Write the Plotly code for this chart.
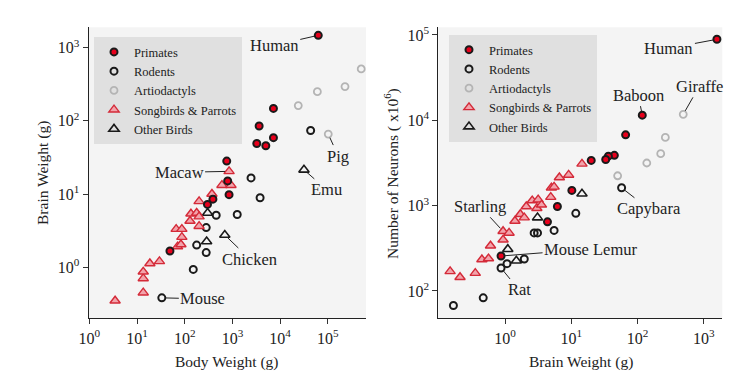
import numpy as np
import plotly.graph_objects as go

# ---------------- data ----------------
# Left panel: body weight (g) vs brain weight (g)
prim_body = [63000, 7240, 3630, 7240, 3240, 5010, 760, 795, 850, 390, 300, 49]
prim_brain = [1480, 148, 85, 59, 49, 45.7, 28.2, 15.1, 9.8, 8.5, 7.2, 1.66]
rod_body = [43600, 2455, 3800, 457, 1260, 282, 178, 282, 151, 33.1]
rod_brain = [74, 16.6, 8.9, 5.13, 5.25, 3.47, 2.0, 1.58, 0.93, 0.38]
art_body = [501000, 229000, 60300, 24000, 102000]
art_brain = [513, 295, 251, 162, 66]
song_body = [3.47, 13.5, 13.5, 13.5, 18.6, 29.5, 70.8, 83.2, 87.1, 66.1, 87.1,
             129, 200, 135, 178, 200, 200, 372, 603, 933, 851]
song_brain = [0.347, 0.447, 0.70, 0.863, 1.12, 1.20, 1.91, 2.04, 2.57, 3.31, 3.31,
              4.27, 3.63, 5.37, 5.50, 4.90, 7.94, 10.0, 13.2, 13.2, 20.4]
bird_body = [31600, 302, 288, 692]
bird_brain = [21.4, 5.50, 2.24, 2.75]

# Right panel: brain weight (g) vs number of neurons (x10^6)
prim_bw = [1580, 118, 66.1, 44.7, 36.3, 33.1, 20.0, 10.2, 6.17, 4.37, 0.87]
prim_nn = [89000, 11500, 6760, 3890, 3800, 3470, 3390, 1510, 977, 646, 257]
rod_bw = [57.5, 11.7, 5.50, 2.75, 3.09, 1.95, 1.07, 0.87, 0.468, 0.166]
rod_nn = [1620, 813, 513, 479, 479, 237, 209, 186, 83.2, 67.6]
art_bw = [490, 263, 224, 138, 50.1]
art_nn = [11750, 6310, 4070, 3160, 2240]
song_bw = [0.148, 0.209, 0.355, 0.447, 0.562, 0.603, 0.933, 0.933, 1.15, 1.41, 1.70,
           1.95, 2.09, 2.57, 3.02, 3.16, 3.55, 4.90, 5.01, 5.50, 6.61, 9.12, 14.5]
song_nn = [170, 145, 162, 234, 240, 339, 398, 501, 479, 661, 794,
           724, 977, 1148, 933, 1175, 1023, 1259, 1622, 1660, 2138, 2291, 3090]
bird_bw = [14.5, 3.09, 1.10, 1.48]
bird_nn = [1380, 724, 309, 226]

group_names = ["Primates", "Rodents", "Artiodactyls", "Songbirds & Parrots", "Other Birds"]
tick_vals_left_x = [1, 10, 100, 1000, 10000, 100000]
tick_vals_left_y = [1, 10, 100, 1000]
tick_vals_right_x = [1, 10, 100, 1000]
tick_vals_right_y = [100, 1000, 10000, 100000]


def tick_text(vals):
    return ["10<sup>%d</sup>" % int(round(np.log10(v))) for v in vals]


# ---------------- styles ----------------
FONT = "Liberation Serif"
TXT = "#222222"
styles = [
    dict(symbol="circle", size=7, color="#e8001c", line=dict(color="#1a1a1a", width=2)),
    dict(symbol="circle", size=7, color="rgba(0,0,0,0)", line=dict(color="#1a1a1a", width=2)),
    dict(symbol="circle", size=7, color="rgba(0,0,0,0)", line=dict(color="#b4b4b4", width=1.8)),
    dict(symbol="triangle-up", size=9, color="#f2a3ab", line=dict(color="#d42a38", width=1.4)),
    dict(symbol="triangle-up", size=9, color="rgba(0,0,0,0)", line=dict(color="#1a1a1a", width=1.6)),
]

fig = go.Figure()
left = [(prim_body, prim_brain), (rod_body, rod_brain), (art_body, art_brain),
        (song_body, song_brain), (bird_body, bird_brain)]
right = [(prim_bw, prim_nn), (rod_bw, rod_nn), (art_bw, art_nn),
         (song_bw, song_nn), (bird_bw, bird_nn)]
order = [2, 1, 4, 3, 0]  # draw order (primates on top)
for i in order:
    x, y = left[i]
    fig.add_trace(go.Scatter(x=x, y=y, mode="markers", name=group_names[i],
                             marker=styles[i], xaxis="x", yaxis="y",
                             legend="legend", legendrank=i))
for i in order:
    x, y = right[i]
    fig.add_trace(go.Scatter(x=x, y=y, mode="markers", name=group_names[i],
                             marker=styles[i], xaxis="x2", yaxis="y2",
                             legend="legend2", legendrank=i))

# ---------------- annotations ----------------
labels = [
    ("x", "y", "Human", prim_body[0], prim_brain[0], -44, 10),
    ("x", "y", "Macaw", song_body[20], song_brain[20], -50, 1),
    ("x", "y", "Pig", art_body[4], art_brain[4], 10, 22),
    ("x", "y", "Emu", bird_body[0], bird_brain[0], 23, 20),
    ("x", "y", "Chicken", bird_body[3], bird_brain[3], 25, 24),
    ("x", "y", "Mouse", rod_body[9], rod_brain[9], 41, 1),
    ("x2", "y2", "Human", prim_bw[0], prim_nn[0], -48, 9),
    ("x2", "y2", "Baboon", prim_bw[1], prim_nn[1], -4, -20),
    ("x2", "y2", "Giraffe", art_bw[0], art_nn[0], 16, -28),
    ("x2", "y2", "Capybara", rod_bw[0], rod_nn[0], 27, 21),
    ("x2", "y2", "Starling", song_bw[7], song_nn[7], -23, -25),
    ("x2", "y2", "Mouse Lemur", prim_bw[10], prim_nn[10], 90, -7),
    ("x2", "y2", "Rat", rod_bw[7], rod_nn[7], 18, 22),
]
annotations = []
for xr, yr, txt, xv, yv, ax, ay in labels:
    annotations.append(dict(xref=xr, yref=yr, x=np.log10(xv), y=np.log10(yv),
                            text=txt, showarrow=True, ax=ax, ay=ay,
                            arrowhead=0, arrowwidth=1, arrowcolor=TXT,
                            standoff=4, font=dict(family=FONT, size=16.5, color=TXT)))

W, H = 755, 384
OFF = 8  # page body margin


def px(xp):
    return (xp - OFF) / W


def py(yp):
    return 1 - (yp - OFF) / H


titles = [
    ("Body Weight (g)", 226.7, 362, 0),
    ("Brain Weight (g)", 580.5, 362, 0),
    ("Brain Weight (g)", 43, 173, -90),
    ("Number of Neurons ( x10<sup>6</sup>)", 391, 173, -90),
]
for txt, xp, yp, ang in titles:
    annotations.append(dict(xref="paper", yref="paper", x=px(xp), y=py(yp),
                            text=txt, showarrow=False, textangle=ang,
                            xanchor="center", yanchor="middle",
                            font=dict(family=FONT, size=15.5, color=TXT)))

axis_common = dict(type="log", showgrid=False, zeroline=False, showline=True,
                   automargin=False,
                   linecolor="#222222", linewidth=1.2, ticks="outside", ticklen=5,
                   tickcolor="#333333", tickwidth=1,
                   tickfont=dict(family=FONT, size=16, color=TXT))

y_dom = [py(318.3), py(27.3)]
fig.update_layout(
    width=W, height=H,
    margin=dict(l=0, r=0, t=0, b=0, autoexpand=False),
    paper_bgcolor="white",
    plot_bgcolor="#f4f4f4",
    font=dict(family=FONT, color=TXT),
    xaxis=dict(axis_common, domain=[px(88.7), px(366)], range=[-0.013, 5.80],
               tickvals=tick_vals_left_x, ticktext=tick_text(tick_vals_left_x),
               anchor="y"),
    yaxis=dict(axis_common, domain=y_dom, range=[-0.70, 3.28],
               tickvals=tick_vals_left_y, ticktext=tick_text(tick_vals_left_y),
               anchor="x"),
    xaxis2=dict(axis_common, domain=[px(438.3), px(722.3)], range=[-1.008, 3.28],
                tickvals=tick_vals_right_x, ticktext=tick_text(tick_vals_right_x),
                anchor="y2"),
    yaxis2=dict(axis_common, domain=y_dom, range=[1.68, 5.09],
                tickvals=tick_vals_right_y, ticktext=tick_text(tick_vals_right_y),
                anchor="x2"),
    legend=dict(x=px(94), y=py(37.3), xanchor="left", yanchor="top",
                bgcolor="#e0e0e0", font=dict(family=FONT, size=12.5, color=TXT),
                itemwidth=30, traceorder="normal"),
    legend2=dict(x=px(449), y=py(35), xanchor="left", yanchor="top",
                 bgcolor="#e0e0e0", font=dict(family=FONT, size=12.5, color=TXT),
                 itemwidth=30, traceorder="normal"),
    annotations=annotations,
    showlegend=True,
)

fig.write_html("out.html")
